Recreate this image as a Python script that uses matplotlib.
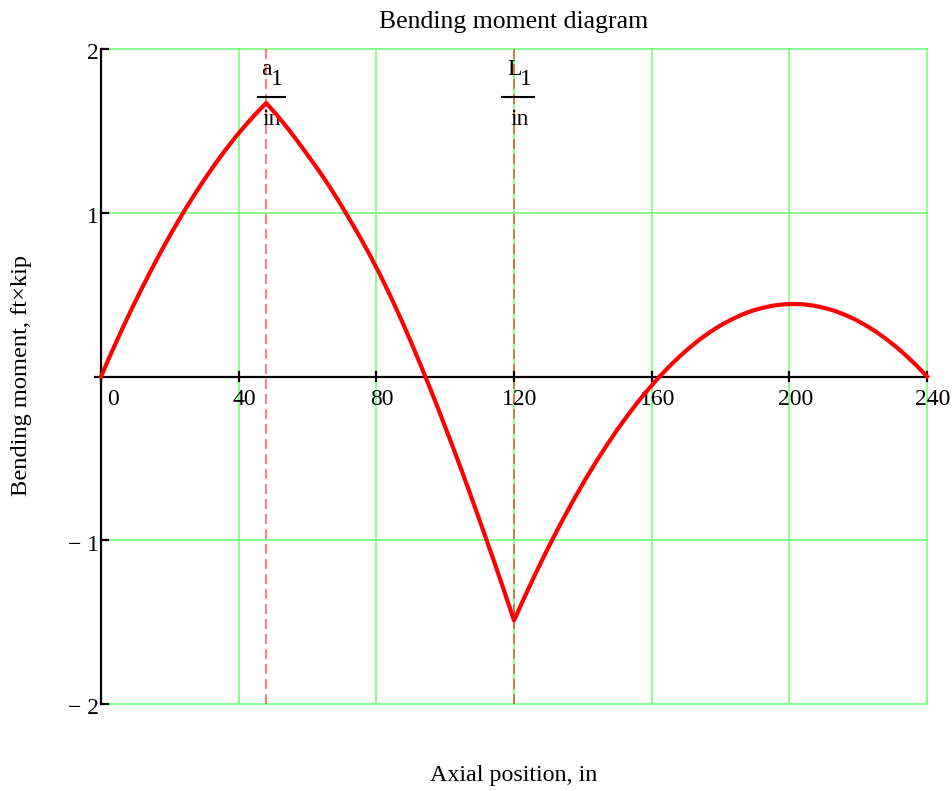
import matplotlib
matplotlib.use("Agg")
import matplotlib.pyplot as plt

plt.rcParams['font.family'] = ['Liberation Serif', 'DejaVu Serif']

# Axial positions (in) and bending moment (ft*kip) along the two-span beam
position_in = [0, 3, 6, 9, 12, 15, 18, 21, 24, 27, 30, 33, 36, 39, 42, 45,
               48, 51, 54, 57, 60, 63, 66, 69, 72, 75, 78, 81, 84, 87, 90,
               93, 96, 99, 102, 105, 108, 111, 114, 117, 120,
               123, 126, 129, 132, 135, 138, 141, 144, 147, 150, 153, 156,
               159, 162, 165, 168, 171, 174, 177, 180, 183, 186, 189, 192,
               195, 198, 201, 204, 207, 210, 213, 216, 219, 222, 225, 228,
               231, 234, 237, 240]
moment_ftkip = [0.000, 0.144, 0.283, 0.416, 0.544, 0.667, 0.785, 0.897,
                1.004, 1.106, 1.202, 1.293, 1.379, 1.460, 1.535, 1.605,
                1.670, 1.599, 1.522, 1.440, 1.353, 1.266, 1.173, 1.073,
                0.968, 0.860, 0.746, 0.625, 0.495, 0.358, 0.214, 0.063,
                -0.092, -0.253, -0.417, -0.586, -0.760, -0.937, -1.117,
                -1.301, -1.490,
                -1.350, -1.215, -1.085, -0.961, -0.842, -0.728, -0.619,
                -0.516, -0.418, -0.325, -0.238, -0.155, -0.079, -0.007,
                0.059, 0.120, 0.176, 0.227, 0.272, 0.312, 0.346, 0.376,
                0.400, 0.418, 0.432, 0.440, 0.443, 0.441, 0.433, 0.420,
                0.402, 0.378, 0.350, 0.315, 0.276, 0.231, 0.182, 0.126,
                0.066, 0.000]

# Load position a1 and first span length L1 (in)
a1 = 48
L1 = 120

xticks = [0, 40, 80, 120, 160, 200, 240]
xtick_labels = ["0", "40", "80", "120", "160", "200", "240"]
yticks = [-2, -1, 1, 2]
ytick_labels = ["\u2212 2", "\u2212 1", "1", "2"]

FS = 17
GRID = '#80ff80'

fig = plt.figure(figsize=(9.53, 7.91), dpi=100)
ax = fig.add_axes([101 / 953, 87 / 791, 826 / 953, 655 / 791])
ax.set_xlim(0, 240)
ax.set_ylim(-2, 2)
for s in ['top', 'right', 'bottom']:
    ax.spines[s].set_visible(False)
ax.spines['left'].set_linewidth(1.6)
ax.spines['left'].set_color('black')
ax.spines['left'].set_zorder(3)
ax.set_xticks([])
ax.set_yticks([])

# Grid
for xv in xticks[1:]:
    ax.axvline(xv, color=GRID, lw=1.3, zorder=1, clip_on=False)
for yv in yticks:
    ax.axhline(yv, color=GRID, lw=1.3, zorder=1, clip_on=False)

# Horizontal axis through zero with crossing ticks
ax.plot([-1.8, 240], [0, 0], color='black', lw=1.6, zorder=3, clip_on=False)
for xv in xticks:
    ax.plot([xv, xv], [-0.025, 0.025], color='black', lw=1.6, zorder=3,
            clip_on=False)
# Vertical axis ticks
for yv in yticks:
    ax.plot([0, 2.0], [yv, yv], color='black', lw=1.6, zorder=3, clip_on=False)

# Tick labels
for xv, lab in zip(xticks, xtick_labels):
    dx = 8.6 if xv == 0 else 4.3
    ax.annotate(lab, xy=(xv, 0), xytext=(dx, -9), textcoords='offset points',
                ha='center', va='top', fontsize=FS, annotation_clip=False)
for yv, lab in zip(yticks, ytick_labels):
    ax.annotate(lab, xy=(0, yv), xytext=(-1.5, -3.5), textcoords='offset points',
                ha='right', va='center', fontsize=FS, annotation_clip=False)

# Marker lines at a1 and L1
for xv in (a1, L1):
    ax.axvline(xv, color='red', alpha=0.5, lw=1.5, ls=(0, (4.8, 2.4)), zorder=2)

# Fraction labels a1/in and L1/in
def fraction(xv, sym, sub_dx, left_px, right_px):
    ax.annotate(sym, xy=(xv, 2), xytext=(0.2, -18.7), textcoords='offset points',
                ha='center', va='baseline', fontsize=FS)
    ax.annotate("1", xy=(xv, 2), xytext=(sub_dx, -25.9), textcoords='offset points',
                ha='left', va='baseline', fontsize=FS)
    ax.plot([xv + left_px / 3.442, xv + right_px / 3.442], [2 - 47.7 / 163.75] * 2,
            color='black', lw=1.5, zorder=3, solid_capstyle='butt')
    ax.annotate("in", xy=(xv, 2), xytext=(4.0, -54.7), textcoords='offset points',
                ha='center', va='baseline', fontsize=FS)

fraction(a1, "a", 3.4, -9.5, 19.8)
fraction(L1, "L", 4.4, -12.7, 21.3)

# Bending moment curve
ax.plot(position_in, moment_ftkip, color='#ff0000', lw=3, zorder=5,
        solid_joinstyle='round', clip_on=False)

fig.text(514 / 953, 1 - 22 / 791, "Bending moment diagram", ha='center',
         va='center', fontsize=18.5)
fig.text(514 / 953, 1 - 776 / 791, "Axial position, in", ha='center',
         va='center', fontsize=17.3)
fig.text(22 / 953, 1 - 376 / 791, "Bending moment, ft\u00d7kip", ha='center',
         va='center', rotation=90, fontsize=17.6)

fig.savefig("out.png", dpi=100)
